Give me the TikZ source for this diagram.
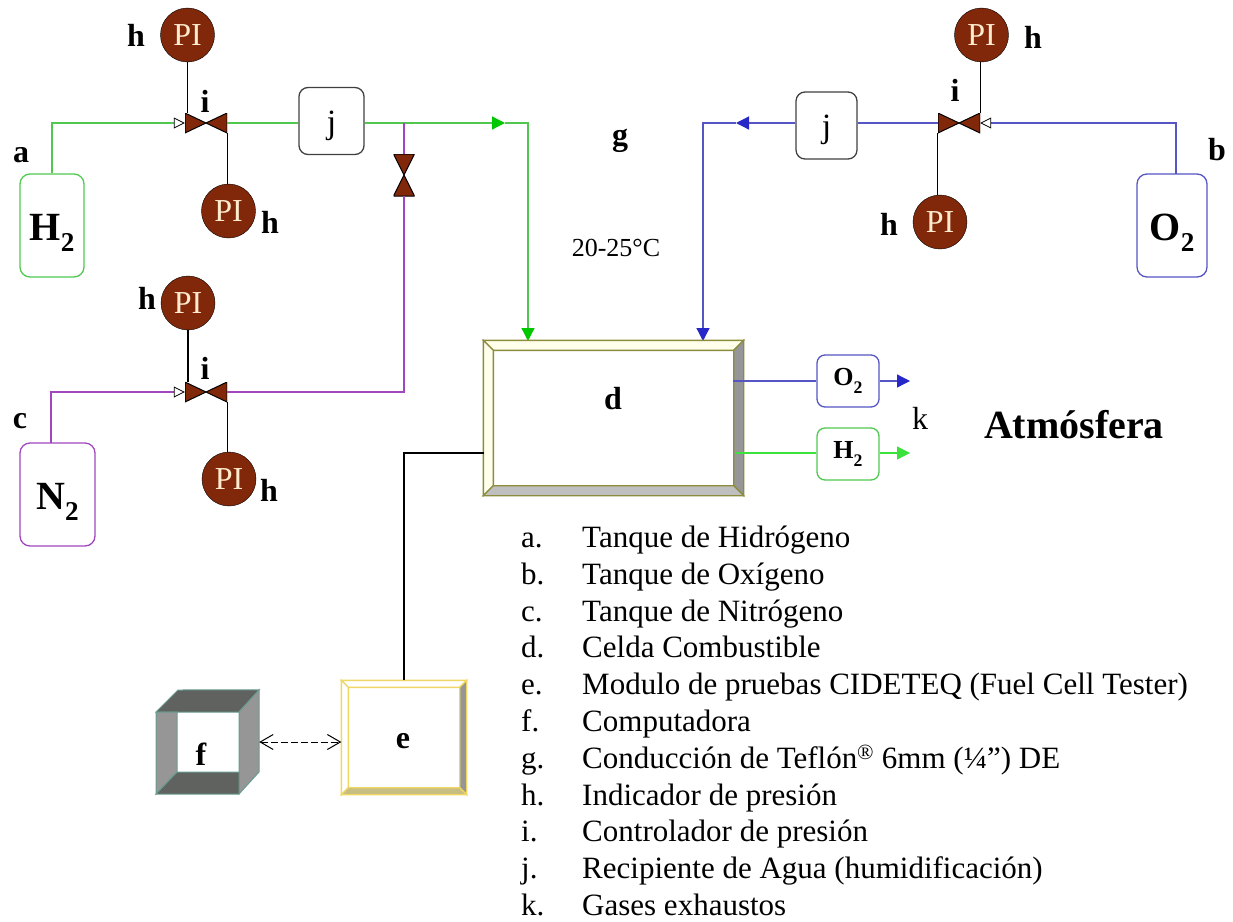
\documentclass[tikz,border=0pt]{standalone}
\usepackage{fontspec}
\usepackage{tikz}
\usepackage{xcolor}
\usetikzlibrary{arrows.meta,calc,positioning}
\setmainfont{Liberation Serif}
\definecolor{hidgreen}{RGB}{80,200,80}
\definecolor{hidtip}{RGB}{0,200,0}
\definecolor{hidout}{RGB}{60,225,60}
\definecolor{oxiblue}{RGB}{85,85,195}
\definecolor{oxitip}{RGB}{40,40,200}
\definecolor{nitpurple}{RGB}{160,70,190}
\definecolor{gaugebrown}{RGB}{130,40,10}
\definecolor{gaugetext}{RGB}{255,235,205}
\definecolor{celledge}{RGB}{140,140,60}
\definecolor{cellcream}{RGB}{255,255,235}
\definecolor{moduleedge}{RGB}{240,215,100}
\definecolor{modulebase}{RGB}{200,190,130}
\definecolor{compteal}{RGB}{105,155,145}
\definecolor{compdark}{RGB}{95,98,95}
\definecolor{compgray}{RGB}{150,150,150}

% faces of a raised box: name, depth, top and left, right, bottom, edge
\newcommand{\bevelbox}[6]{
    \filldraw[line width=1.3pt,draw=#6,fill=#3] (#1.north west) -- (#1.north east) -- ($(#1.north east)+(-#2,#2)$) -- ($(#1.north west)+(#2,#2)$) -- cycle;
    \filldraw[line width=1.3pt,draw=#6,fill=#3] (#1.north west) -- (#1.south west) -- ($(#1.south west)+(#2,-#2)$) -- ($(#1.north west)+(#2,#2)$) -- cycle;
    \filldraw[line width=1.3pt,draw=#6,fill=#4] (#1.north east) -- (#1.south east) -- ($(#1.south east)+(-#2,-#2)$) -- ($(#1.north east)+(-#2,#2)$) -- cycle;
    \filldraw[line width=1.3pt,draw=#6,fill=#5] (#1.south west) -- (#1.south east) -- ($(#1.south east)+(-#2,-#2)$) -- ($(#1.south west)+(#2,-#2)$) -- cycle;
}
% low subscript two of the gas names
\newcommand{\subtwo}{\raisebox{-.29em}{\scalebox{.68}{2}}}

\tikzset{
    tag/.style={font=\fontsize{32}{32}\selectfont\bfseries,inner sep=0pt},
    gauge/.style={circle,draw=black,fill=gaugebrown,text=gaugetext,minimum size=54pt,inner sep=0pt,font=\fontsize{32}{32}\selectfont},
    valvehoriz/.style={minimum width=42pt,minimum height=20pt,inner sep=0pt,path picture={
        \filldraw[draw=black,line width=1pt,fill=gaugebrown] (path picture bounding box.north west) -- (path picture bounding box.south east) -- (path picture bounding box.north east) -- (path picture bounding box.south west) -- cycle;}},
    valvevert/.style={minimum width=21pt,minimum height=42pt,inner sep=0pt,path picture={
        \filldraw[draw=black,line width=1pt,fill=gaugebrown] (path picture bounding box.north west) -- (path picture bounding box.north east) -- (path picture bounding box.south west) -- (path picture bounding box.south east) -- cycle;}},
    tank/.style={draw=#1,rounded corners=10pt,line width=1.3pt,inner sep=0pt,text height=36pt,text depth=7pt,font=\fontsize{40}{40}\selectfont\bfseries},
    exhaust/.style={draw=#1,rounded corners=8pt,line width=1.3pt,minimum width=62pt,minimum height=52pt,inner sep=0pt,font=\fontsize{26}{26}\selectfont\bfseries},
    humid/.style={draw=black!75,rounded corners=9pt,line width=1.3pt,minimum height=67pt,inner sep=0pt,text height=31pt,text depth=7pt,font=\fontsize{34}{34}\selectfont},
    pipe/.style={draw=#1,line width=1.3pt},
    signal/.style={draw=black,line width=1.2pt},
    opentip/.style={-{Triangle[open,fill=white,length=11pt,width=11pt,color=black,line width=.8pt]}},
    flowtip/.style={-{Triangle[length=13pt,width=13pt,color=#1]}},
    body/.style={font=\fontsize{31}{31}\selectfont,anchor=base west,inner sep=0pt}
}

\begin{document}
\begin{tikzpicture}[x=1pt,y=-1pt]
    \useasboundingbox (0,0) rectangle (1233,921);

    % Hydrogen line
    \begin{scope}
        \node[tank=hidgreen,minimum width=64pt,minimum height=103pt] (tankH) at (52,225.5) {H\subtwo};
        \node[valvehoriz] (valveH) at (206,123) {};
        \node[gauge] (gaugeHa) at (187.5,35) {PI};
        \node[gauge] (gaugeHb) at (228.5,211) {PI};
        \node[humid,minimum width=65pt] (jarH) at (331.5,121) {j};
        \node[valvevert] (valveB) at (404,175) {};
        \coordinate (tipH) at (505,123);
        \coordinate (inH) at (528,341);
        \draw[pipe=hidgreen,opentip] (tankH.north) |- (valveH.west);
        \draw[pipe=hidgreen] (valveH.east) -- (valveH.east -| jarH.west);
        \draw[pipe=hidgreen,flowtip=hidtip] (jarH.east |- valveH) -- (tipH);
        \draw[pipe=hidgreen,flowtip=hidtip] (tipH) -| (inH);
        \draw[signal] (gaugeHa.south) -- (gaugeHa.south |- valveH.north);
        \draw[signal] (valveH.south east) -- (valveH.south east |- gaugeHb.north);
        \node[tag] (tagA) at (21,155) {a};
        \node[tag] (tagHa) at (136,35) {h};
        \node[tag] (tagHb) at (270,222) {h};
        \node[tag] (tagIa) at (205,101) {i};
    \end{scope}

    % Nitrogen line
    \begin{scope}
        \node[tank=nitpurple,minimum width=75pt,minimum height=103pt] (tankN) at (57.5,494.5) {N\subtwo};
        \node[valvehoriz] (valveN) at (206,392) {};
        \node[gauge] (gaugeNa) at (188,303) {PI};
        \node[gauge] (gaugeNb) at (229,479) {PI};
        \coordinate (topN) at (51,443);
        \draw[pipe=nitpurple,opentip] (topN) |- (valveN.west);
        \draw[pipe=nitpurple] (valveN.east) -| (valveB.south);
        \draw[pipe=nitpurple] (valveB.north) -- (valveB.north |- valveH);
        \draw[signal] (gaugeNa.south) -- (gaugeNa.south |- valveN.north);
        \draw[signal] (valveN.south east) -- (valveN.south east |- gaugeNb.north);
        \node[tag] (tagC) at (20,421) {c};
        \node[tag] (tagNa) at (147,298) {h};
        \node[tag] (tagNb) at (269,490) {h};
        \node[tag] (tagIb) at (205,368) {i};
    \end{scope}

    % Oxygen line
    \begin{scope}
        \node[tank=oxiblue,minimum width=70pt,minimum height=103pt] (tankO) at (1172,225.5) {O\subtwo};
        \node[valvehoriz] (valveO) at (959,123) {};
        \node[gauge] (gaugeOa) at (981.5,35) {PI};
        \node[gauge] (gaugeOb) at (940,222) {PI};
        \node[humid,minimum width=61pt] (jarO) at (826.5,125.5) {j};
        \coordinate (topO) at (1176,174);
        \coordinate (tipO) at (736,123);
        \coordinate (inO) at (703,341);
        \draw[pipe=oxiblue,opentip] (topO) |- (valveO.east);
        \draw[pipe=oxiblue] (valveO.west) -- (valveO.west -| jarO.east);
        \draw[pipe=oxiblue,flowtip=oxitip] (jarO.west |- valveO) -- (tipO);
        \draw[pipe=oxiblue,flowtip=oxitip] (tipO) -| (inO);
        \draw[signal] (valveO.north east) -- (valveO.north east |- gaugeOa.south);
        \draw[signal] (valveO.south west) -- (valveO.south west |- gaugeOb.north);
        \node[tag] (tagB) at (1217,150) {b};
        \node[tag] (tagOa) at (1033,37) {h};
        \node[tag] (tagOb) at (889,224) {h};
        \node[tag] (tagIc) at (955,90) {i};
        \node[tag] (tagG) at (620,141) {g};
        \node[font=\fontsize{26}{26}\selectfont,inner sep=0pt] (temp) at (616,248) {20-25°C};
    \end{scope}

    % Fuel cell and exhaust gases
    \begin{scope}
        \node[draw=celledge,fill=white,line width=1.3pt,minimum width=259pt,minimum height=154pt,inner sep=0pt] (cell) at (613.5,418) {};
        \bevelbox{cell}{10}{cellcream}{compgray}{black!25}{celledge}
        \node[tag] (tagD) at (613,399) {d};
        \node[exhaust=oxiblue] (boxO) at (848,381) {O\subtwo};
        \node[exhaust=hidgreen] (boxH) at (848,454) {H\subtwo};
        \coordinate (outO) at (733,381);
        \coordinate (outH) at (735,453);
        \coordinate (endO) at (910,381);
        \coordinate (endH) at (910,453);
        \draw[pipe=oxiblue] (outO) -- (boxO.west);
        \draw[pipe=oxiblue,flowtip=oxitip] (boxO.east) -- (endO);
        \draw[pipe=hidout] (outH) -- (boxH.west |- outH);
        \draw[pipe=hidout,flowtip=hidout] (boxH.east |- outH) -- (endH);
        \node[font=\fontsize{32}{32}\selectfont,inner sep=0pt] (tagK) at (920,418) {k};
        \node[font=\fontsize{40}{40}\selectfont\bfseries,inner sep=0pt] (atm) at (1074,425) {Atmósfera};
    \end{scope}

    % Test module and computer
    \begin{scope}
        \node[draw=moduleedge,fill=white,line width=1.3pt,minimum width=124pt,minimum height=113pt,inner sep=0pt] (modE) at (404,737.5) {};
        \bevelbox{modE}{7}{white}{compgray}{modulebase}{moduleedge}
        \node[tag] (tagE) at (403,741) {e};
        \node[minimum width=103pt,minimum height=104pt,inner sep=0pt] (comp) at (207.5,742) {};
        \filldraw[line width=1pt,draw=compteal,fill=compdark] (156,712) -- (178,690) -- (comp.north east) -- (239,712) -- cycle;
        \filldraw[line width=1pt,draw=compteal,fill=compgray] (239,712) -- (comp.north east) -- (259,772) -- (239,794) -- cycle;
        \filldraw[line width=1pt,draw=compteal,fill=compgray] (156,712) -- (177,712) -- (177,772) -- (156,794) -- cycle;
        \filldraw[line width=1pt,draw=compteal,fill=compdark] (177,772) -- (239,772) -- (239,794) -- (156,794) -- cycle;
        \node[tag] (tagF) at (201,754) {f};
        \coordinate (inE) at (484,453);
        \draw[signal] (modE.north) |- (inE);
        \draw[line width=1pt,dash pattern=on 7pt off 3pt,{Straight Barb[length=13pt,width=15pt]}-{Straight Barb[length=13pt,width=15pt]}] (comp.east) -- (comp.east -| modE.west);
    \end{scope}

    % Legend
    \foreach \mark/\desc [count=\n from 0] in {
        a./Tanque de Hidrógeno,
        b./Tanque de Oxígeno,
        c./Tanque de Nitrógeno,
        d./Celda Combustible,
        e./Modulo de pruebas CIDETEQ (Fuel Cell Tester),
        f./Computadora,
        g./Conducción de Teflón\textsuperscript{®} 6mm (¼”) DE,
        h./Indicador de presión,
        i./Controlador de presión,
        j./Recipiente de Agua (humidificación),
        k./Gases exhaustos}{
        \node[body] (mark\n) at (521,{547.5+36.8*\n}) {\mark};
        \node[body] (desc\n) at (582,{547.5+36.8*\n}) {\desc};
    }
\end{tikzpicture}
\end{document}
